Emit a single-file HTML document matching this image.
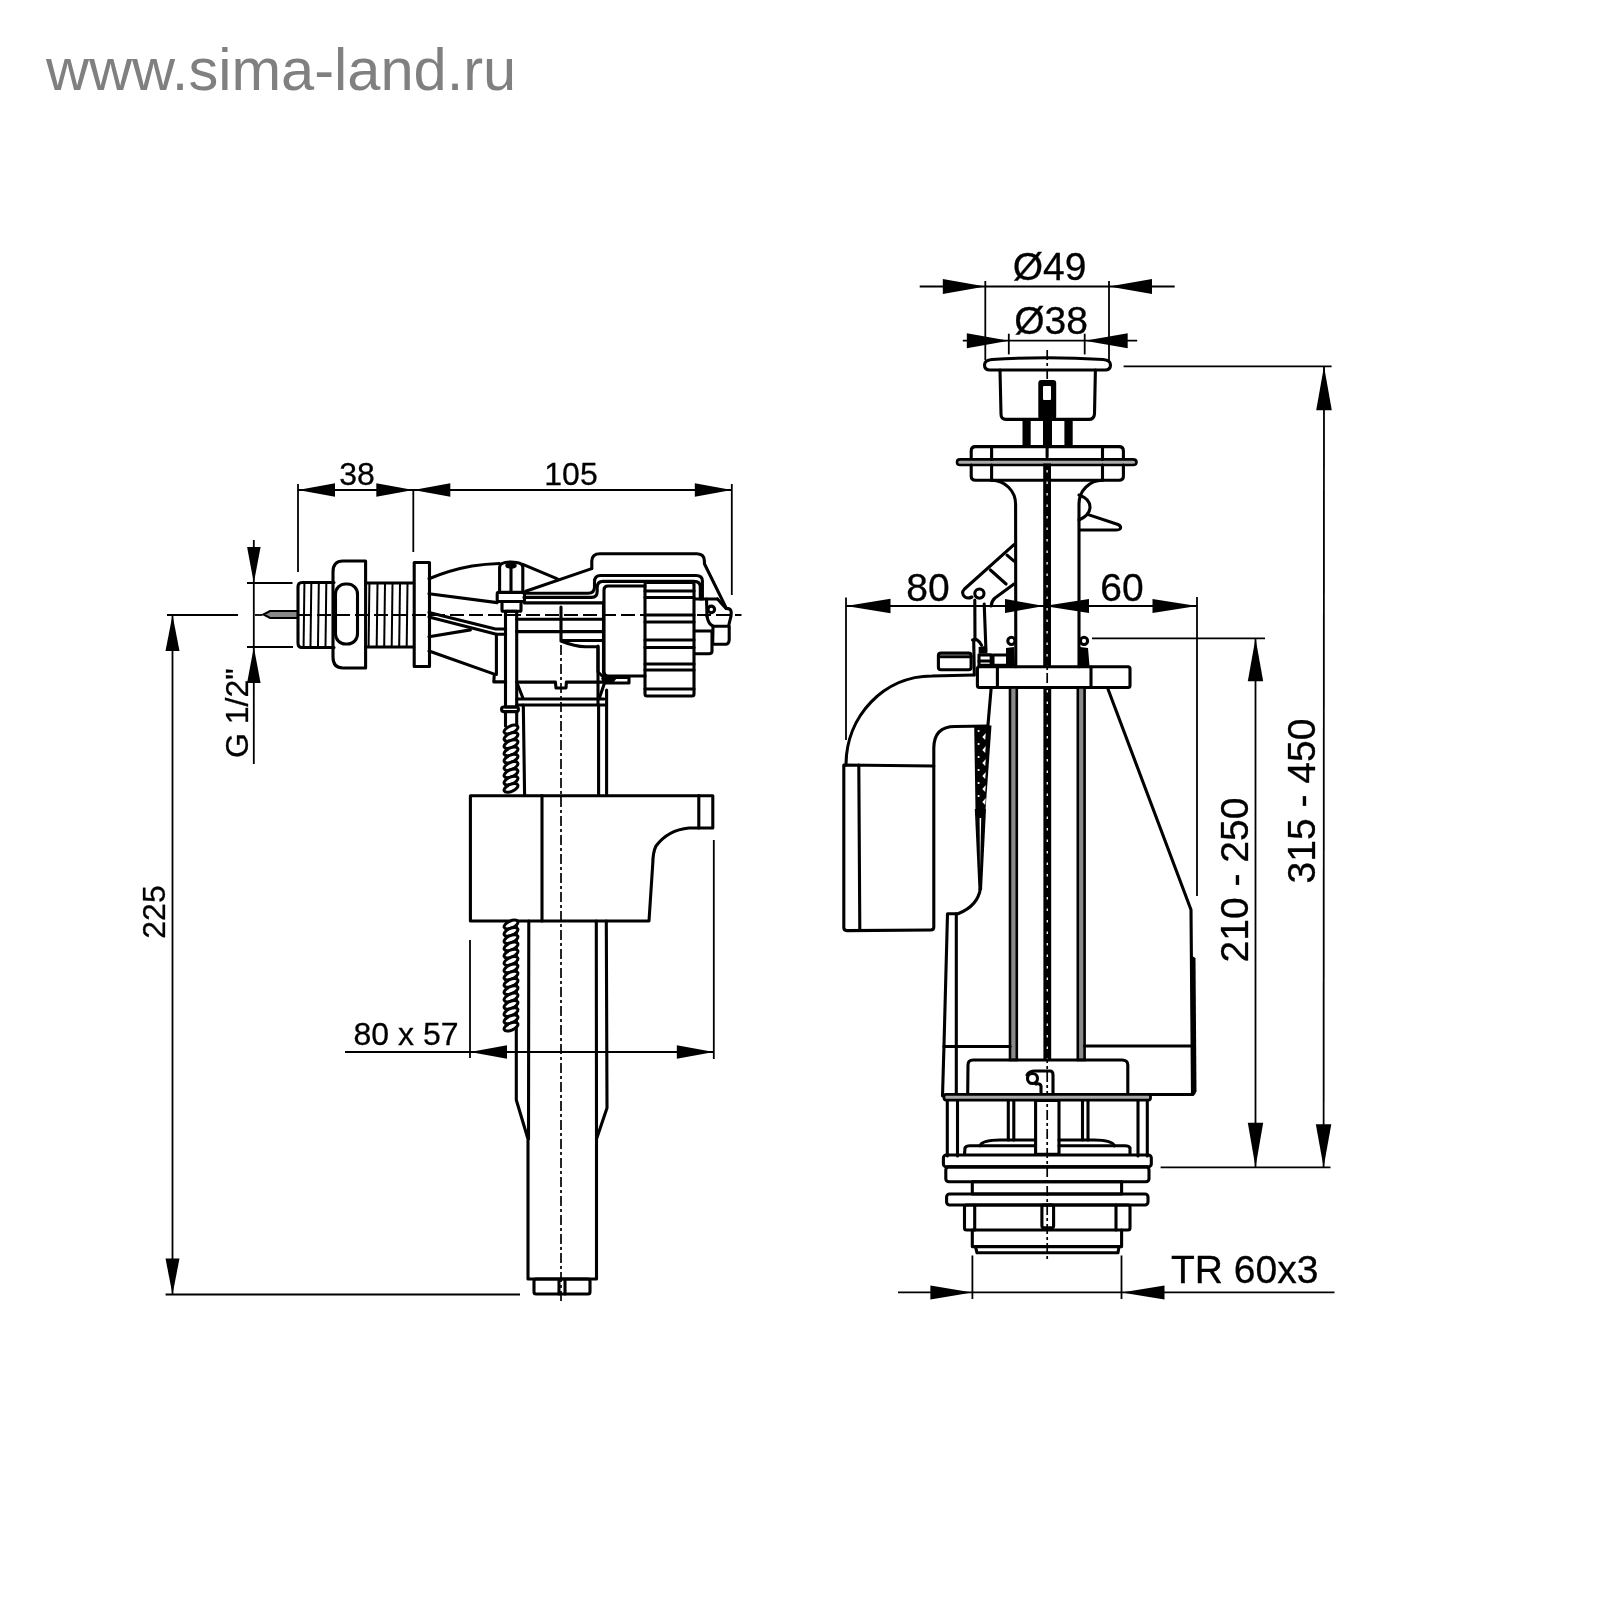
<!DOCTYPE html>
<html><head><meta charset="utf-8"><style>
html,body{margin:0;padding:0;background:#fff;}
svg{display:block;will-change:transform;}
text{font-family:"Liberation Sans",sans-serif;fill:#000;stroke:#000;stroke-width:0.3;}
.d{stroke:#000;stroke-width:1.8;fill:none;}
.c{stroke:#000;stroke-width:1.7;fill:none;stroke-dasharray:10 3 3 3;}
.cd{stroke:#000;stroke-width:1.9;fill:none;stroke-dasharray:14 5;}
.m{stroke:#000;stroke-width:3.1;fill:none;stroke-linejoin:round;stroke-linecap:round;}
.th{stroke:#000;stroke-width:2;fill:none;}
.t{stroke:#000;stroke-width:2;fill:#888;}
.sp{stroke:#000;stroke-width:3;fill:#fff;}
.f{fill:#000;stroke:none;}
.rd{fill:#8a8a8a;stroke:#000;stroke-width:2.6;}
.w{fill:#fff;stroke:none;}
.cw{stroke:#fff;stroke-width:1.3;stroke-dasharray:2.5 9;fill:none;}
polygon{fill:#000;}
</style></head><body>
<svg width="1600" height="1600" viewBox="0 0 1600 1600">
<text x="46" y="89.5" font-size="59.6" style="fill:#808080;stroke:none">www.sima-land.ru</text>
<line class="d" x1="298.0" y1="490.0" x2="732.0" y2="490.0"/>
<line class="d" x1="298.0" y1="484.0" x2="298.0" y2="572.0"/>
<line class="d" x1="413.3" y1="490.0" x2="413.3" y2="552.0"/>
<line class="d" x1="731.8" y1="484.0" x2="731.8" y2="595.0"/>
<polygon points="298.0,490.0 335.0,483.2 335.0,496.8"/>
<polygon points="413.3,490.0 376.3,483.2 376.3,496.8"/>
<polygon points="413.3,490.0 450.3,483.2 450.3,496.8"/>
<polygon points="731.8,490.0 694.8,483.2 694.8,496.8"/>
<text x="357.0" y="484.5" font-size="32" text-anchor="middle">38</text>
<text x="571.0" y="484.5" font-size="32" text-anchor="middle">105</text>
<line class="d" x1="253.8" y1="540.0" x2="253.8" y2="764.0"/>
<line class="d" x1="247.0" y1="583.0" x2="292.5" y2="583.0"/>
<line class="d" x1="247.0" y1="647.0" x2="293.0" y2="647.0"/>
<polygon points="253.8,583.0 247.1,547.0 260.6,547.0"/>
<polygon points="253.8,647.0 247.1,683.0 260.6,683.0"/>
<text x="247.5" y="758.0" font-size="32" text-anchor="start" transform="rotate(-90 247.5 758.0)">G 1/2"</text>
<line class="d" x1="172.5" y1="615.0" x2="172.5" y2="1294.5"/>
<line class="d" x1="167.0" y1="615.0" x2="238.0" y2="615.0"/>
<line class="d" x1="165.6" y1="1294.5" x2="520.0" y2="1294.5"/>
<polygon points="172.5,615.0 165.5,651.0 179.5,651.0"/>
<polygon points="172.5,1294.5 165.5,1258.5 179.5,1258.5"/>
<text x="164.7" y="912.0" font-size="32" text-anchor="middle" transform="rotate(-90 164.7 912.0)">225</text>
<line class="d" x1="345.0" y1="1052.0" x2="714.0" y2="1052.0"/>
<line class="d" x1="470.0" y1="940.0" x2="470.0" y2="1058.0"/>
<line class="d" x1="713.8" y1="840.0" x2="713.8" y2="1059.0"/>
<polygon points="470.0,1052.0 507.0,1045.2 507.0,1058.8"/>
<polygon points="713.8,1052.0 676.8,1045.2 676.8,1058.8"/>
<text x="406.0" y="1044.5" font-size="32" text-anchor="middle">80 x 57</text>
<line class="d" x1="255.0" y1="615.0" x2="262.5" y2="615.0"/>
<line class="cd" x1="298.0" y1="615.0" x2="741.5" y2="615.0"/>
<line class="c" x1="561.0" y1="607.0" x2="561.0" y2="1302.0"/>
<path class="t" d="M263.5,614.5 L270,611 L298,611 L298,618 L270,618 Z"/>
<path class="m" d="M334,582.5 L302,582.5 Q298,582.5 298,587 L298,643 Q298,647.5 302,647.5 L334,647.5"/>
<line class="th" x1="304.4" y1="584.0" x2="303.6" y2="646.0"/>
<line class="th" x1="311.3" y1="584.0" x2="310.5" y2="646.0"/>
<line class="th" x1="318.8" y1="584.0" x2="318.0" y2="646.0"/>
<line class="th" x1="326.3" y1="584.0" x2="325.5" y2="646.0"/>
<path class="m" d="M365.6,561 L343,561 Q333,561 333,572 L333,657 Q333,668 343,668 L365.6,668 Z"/>
<rect class="m" x="335.5" y="584.0" width="22.0" height="60.0" rx="10.0"/>
<path class="m" d="M365.6,583 L413.7,583 M365.6,647 L413.7,647"/>
<line class="th" x1="369.4" y1="584.0" x2="368.6" y2="646.0"/>
<line class="th" x1="377.5" y1="584.0" x2="376.7" y2="646.0"/>
<line class="th" x1="385.0" y1="584.0" x2="384.2" y2="646.0"/>
<line class="th" x1="392.5" y1="584.0" x2="391.7" y2="646.0"/>
<line class="th" x1="400.0" y1="584.0" x2="399.2" y2="646.0"/>
<line class="th" x1="407.5" y1="584.0" x2="406.7" y2="646.0"/>
<rect class="m" x="414.2" y="562.5" width="15.3" height="104.0" rx="0.0"/>
<path class="m" d="M429,578.7 Q450,570 472,566 Q485,564 499.5,563.5"/>
<path class="m" d="M429,593.7 L497.2,602.6"/>
<path class="m" d="M429,612.4 L495.5,629 L505.7,629"/>
<path class="m" d="M429,616.9 L496.4,634.3 L505.7,634.3"/>
<path class="m" d="M429,636.8 L470.4,629.9"/>
<path class="m" d="M429,651 L494.3,674.1 L493.8,681.9 L505.7,681.9"/>
<line class="m" x1="496.4" y1="634.3" x2="496.4" y2="674.5"/>
<path class="m" d="M499.6,591.2 L499.6,567 Q500,562 511,562 Q522.5,562 522.8,567 L522.8,591.2"/>
<ellipse class="m" cx="511" cy="565.5" rx="4.2" ry="1.6" stroke-width="2"/>
<line class="m" x1="511.0" y1="567.5" x2="511.0" y2="591.2"/>
<rect class="m" x="497.2" y="592.4" width="27.3" height="9.1" rx="1.5"/>
<rect class="m" x="502.0" y="601.5" width="19.0" height="9.7" rx="1.0"/>
<rect class="m" x="505.5" y="611.2" width="11.2" height="95.8" rx="0.0"/>
<rect class="m" x="501.6" y="707.0" width="16.8" height="4.6" rx="2.0"/>
<line class="m" x1="505.5" y1="711.6" x2="505.5" y2="726.0"/>
<line class="m" x1="516.7" y1="711.6" x2="516.7" y2="726.0"/>
<ellipse class="sp" cx="511.0" cy="729.5" rx="7.4" ry="3.5" transform="rotate(-24 511.0 729.5)"/>
<ellipse class="sp" cx="511.0" cy="736.8" rx="7.4" ry="3.5" transform="rotate(-24 511.0 736.8)"/>
<ellipse class="sp" cx="511.0" cy="744.1" rx="7.4" ry="3.5" transform="rotate(-24 511.0 744.1)"/>
<ellipse class="sp" cx="511.0" cy="751.4" rx="7.4" ry="3.5" transform="rotate(-24 511.0 751.4)"/>
<ellipse class="sp" cx="511.0" cy="758.7" rx="7.4" ry="3.5" transform="rotate(-24 511.0 758.7)"/>
<ellipse class="sp" cx="511.0" cy="766.0" rx="7.4" ry="3.5" transform="rotate(-24 511.0 766.0)"/>
<ellipse class="sp" cx="511.0" cy="773.3" rx="7.4" ry="3.5" transform="rotate(-24 511.0 773.3)"/>
<ellipse class="sp" cx="511.0" cy="780.6" rx="7.4" ry="3.5" transform="rotate(-24 511.0 780.6)"/>
<ellipse class="sp" cx="511.0" cy="787.9" rx="7.4" ry="3.5" transform="rotate(-24 511.0 787.9)"/>
<path class="m" d="M525.7,591.2 L591.7,568.6"/>
<path class="m" d="M522.8,564.4 L557.4,578.9"/>
<path class="m" d="M524,593.3 L588,593.3 Q594.5,593.3 594.5,587 L594.5,582 Q594.5,575.5 600.5,575.5 L696,575.5 Q702.4,575.5 702.4,581 L702.4,599"/>
<path class="m" d="M524,597.4 L591.5,597.4 Q597.2,597.4 597.2,591.5 L597.2,587.5 Q597.2,581.4 603,581.4 L694,581.4 Q700.3,581.4 700.3,587 L700.3,599"/>
<path class="m" d="M591.8,568.6 L591.8,561 Q592,553.8 600,553.8 L697,553.8 Q704.4,554 704.4,561 L704.4,563.7 L726.4,608.4"/>
<line class="m" x1="524.5" y1="602.9" x2="603.5" y2="602.9"/>
<line class="m" x1="516.7" y1="619.2" x2="603.5" y2="619.2"/>
<path class="m" d="M516.7,631.6 L603.5,631.6"/>
<path class="m" d="M561,607 L561,640.5 L603.5,640.5 M561,641 Q575,646.7 585.6,646.7 L598,646.7 L598,672 L604,677.7"/>
<line class="m" x1="603.5" y1="602.0" x2="603.5" y2="672.0"/>
<path class="m" d="M603.5,672 Q604,677 610,677"/>
<path class="m" d="M645,586 L608,586 Q604,586 604,590 L604,672 Q604,676 608,676 L645,676"/>
<rect class="m" x="645.0" y="582.5" width="49.0" height="113.5" rx="2.0"/>
<line class="m" x1="645.0" y1="591.0" x2="694.0" y2="591.0"/>
<line class="m" x1="645.0" y1="597.5" x2="694.0" y2="597.5"/>
<line class="m" x1="645.0" y1="615.0" x2="694.0" y2="615.0"/>
<line class="m" x1="645.0" y1="622.0" x2="694.0" y2="622.0"/>
<line class="m" x1="645.0" y1="640.0" x2="694.0" y2="640.0"/>
<line class="m" x1="645.0" y1="647.5" x2="694.0" y2="647.5"/>
<line class="m" x1="645.0" y1="664.0" x2="694.0" y2="664.0"/>
<line class="m" x1="645.0" y1="670.0" x2="694.0" y2="670.0"/>
<line class="m" x1="645.0" y1="689.0" x2="694.0" y2="689.0"/>
<path class="m" d="M694.5,599 L717.5,599"/>
<line class="m" x1="706.5" y1="599.0" x2="707.0" y2="616.0"/>
<circle class="m" cx="711.3" cy="609.4" r="3.3"/>
<path class="m" d="M717.5,599 L726,608.4 Q731,608.5 731.2,612 L731,616 L728.5,626.3 L713.4,626.3 Q708,624 707,616"/>
<path class="m" d="M713,626.3 L712.7,644.2 L726,644.2 Q729,644 729.2,640 L729.2,626.3"/>
<path class="m" d="M694.5,631 L712,631 L712,651 Q712,653.8 709,653.8 L694.5,653.8"/>
<path class="m" d="M516.7,682.1 L555.4,682.1 L556,688 L566,688 L566.4,682.1 L604,682.1"/>
<path class="m" d="M604,677.5 L629,677.5 L629,683 L604,683"/>
<path class="f" d="M601,678 L617,678 L613,683 L603,683 Z"/>
<line class="m" x1="516.7" y1="699.0" x2="604.0" y2="699.0"/>
<line class="m" x1="516.7" y1="705.0" x2="606.0" y2="705.0"/>
<line class="m" x1="517.6" y1="684.5" x2="523.0" y2="698.3"/>
<line class="m" x1="604.0" y1="684.5" x2="599.3" y2="698.3"/>
<line class="m" x1="523.3" y1="705.0" x2="524.6" y2="795.5"/>
<line class="m" x1="598.6" y1="705.0" x2="598.6" y2="795.5"/>
<line class="m" x1="606.6" y1="690.0" x2="606.6" y2="795.5"/>
<line class="m" x1="598.0" y1="646.0" x2="598.0" y2="705.0"/>
<path class="m" d="M470.4,795.7 L712.8,795.7 L712.8,828 L689,828 Q668,830 656,846 Q653,852 652.8,863 L649,921 L470.4,921 Z"/>
<line class="m" x1="542.0" y1="795.6" x2="542.0" y2="921.0"/>
<line class="m" x1="698.8" y1="795.6" x2="698.8" y2="828.0"/>
<path class="m" d="M516.3,921 L516.3,1100 L528,1139 L528,1279 L596.5,1279 L596.5,1139 L607,1108 L606.3,921"/>
<line class="m" x1="528.8" y1="921.0" x2="528.5" y2="1139.0"/>
<line class="m" x1="596.3" y1="921.0" x2="596.5" y2="1139.0"/>
<rect class="m" x="534.0" y="1279.0" width="56.0" height="15.0" rx="2.0"/>
<line class="m" x1="559.0" y1="1280.0" x2="559.0" y2="1294.0"/>
<line class="m" x1="565.0" y1="1280.0" x2="565.0" y2="1294.0"/>
<ellipse class="sp" cx="511.0" cy="924.5" rx="7.4" ry="3.5" transform="rotate(-24 511.0 924.5)"/>
<ellipse class="sp" cx="511.0" cy="931.8" rx="7.4" ry="3.5" transform="rotate(-24 511.0 931.8)"/>
<ellipse class="sp" cx="511.0" cy="939.1" rx="7.4" ry="3.5" transform="rotate(-24 511.0 939.1)"/>
<ellipse class="sp" cx="511.0" cy="946.4" rx="7.4" ry="3.5" transform="rotate(-24 511.0 946.4)"/>
<ellipse class="sp" cx="511.0" cy="953.7" rx="7.4" ry="3.5" transform="rotate(-24 511.0 953.7)"/>
<ellipse class="sp" cx="511.0" cy="961.0" rx="7.4" ry="3.5" transform="rotate(-24 511.0 961.0)"/>
<ellipse class="sp" cx="511.0" cy="968.3" rx="7.4" ry="3.5" transform="rotate(-24 511.0 968.3)"/>
<ellipse class="sp" cx="511.0" cy="975.6" rx="7.4" ry="3.5" transform="rotate(-24 511.0 975.6)"/>
<ellipse class="sp" cx="511.0" cy="982.9" rx="7.4" ry="3.5" transform="rotate(-24 511.0 982.9)"/>
<ellipse class="sp" cx="511.0" cy="990.2" rx="7.4" ry="3.5" transform="rotate(-24 511.0 990.2)"/>
<ellipse class="sp" cx="511.0" cy="997.5" rx="7.4" ry="3.5" transform="rotate(-24 511.0 997.5)"/>
<ellipse class="sp" cx="511.0" cy="1004.8" rx="7.4" ry="3.5" transform="rotate(-24 511.0 1004.8)"/>
<ellipse class="sp" cx="511.0" cy="1012.1" rx="7.4" ry="3.5" transform="rotate(-24 511.0 1012.1)"/>
<ellipse class="sp" cx="511.0" cy="1019.4" rx="7.4" ry="3.5" transform="rotate(-24 511.0 1019.4)"/>
<ellipse class="sp" cx="511.0" cy="1026.7" rx="7.4" ry="3.5" transform="rotate(-24 511.0 1026.7)"/>
<line class="d" x1="919.7" y1="286.5" x2="1174.7" y2="286.5"/>
<line class="d" x1="985.3" y1="281.0" x2="985.3" y2="360.0"/>
<line class="d" x1="1109.0" y1="281.0" x2="1109.0" y2="360.0"/>
<polygon points="985.3,286.5 942.8,279.0 942.8,294.0"/>
<polygon points="1109.0,286.5 1152.0,279.0 1152.0,294.0"/>
<text x="1049.5" y="280.3" font-size="39" text-anchor="middle">Ø49</text>
<line class="d" x1="962.8" y1="340.7" x2="1137.2" y2="340.7"/>
<line class="d" x1="1008.8" y1="333.7" x2="1008.8" y2="354.4"/>
<line class="d" x1="1084.7" y1="333.7" x2="1084.7" y2="354.4"/>
<polygon points="1008.8,340.7 966.8,333.2 966.8,348.2"/>
<polygon points="1084.7,340.7 1127.7,333.2 1127.7,348.2"/>
<text x="1051.0" y="333.7" font-size="39" text-anchor="middle">Ø38</text>
<line class="d" x1="1123.6" y1="366.3" x2="1331.6" y2="366.3"/>
<line class="d" x1="1324.0" y1="366.3" x2="1323.6" y2="1167.3"/>
<polygon points="1324.0,366.3 1316.2,410.3 1331.8,410.3"/>
<polygon points="1323.6,1167.3 1315.8,1124.3 1331.3,1124.3"/>
<text x="1315.0" y="801.0" font-size="39" text-anchor="middle" transform="rotate(-90 1315.0 801.0)">315 - 450</text>
<line class="d" x1="1092.0" y1="638.3" x2="1265.0" y2="638.3"/>
<line class="d" x1="1255.5" y1="638.3" x2="1255.5" y2="1167.3"/>
<polygon points="1255.5,638.3 1247.8,681.3 1263.2,681.3"/>
<polygon points="1255.5,1167.3 1247.8,1122.8 1263.2,1122.8"/>
<text x="1247.5" y="880.0" font-size="39" text-anchor="middle" transform="rotate(-90 1247.5 880.0)">210 - 250</text>
<line class="d" x1="1160.6" y1="1167.3" x2="1330.5" y2="1167.3"/>
<line class="d" x1="846.0" y1="606.0" x2="1197.0" y2="606.0"/>
<line class="d" x1="846.0" y1="597.5" x2="846.0" y2="740.0"/>
<line class="d" x1="1197.0" y1="597.0" x2="1197.0" y2="896.0"/>
<polygon points="846.0,606.0 890.5,598.8 890.5,613.2"/>
<polygon points="1044.0,606.0 1005.0,599.0 1005.0,613.0"/>
<polygon points="1044.0,606.0 1089.0,599.0 1089.0,613.0"/>
<polygon points="1197.0,606.0 1152.5,599.0 1152.5,613.0"/>
<text x="928.0" y="600.6" font-size="39" text-anchor="middle">80</text>
<text x="1122.0" y="600.6" font-size="39" text-anchor="middle">60</text>
<line class="d" x1="898.0" y1="1292.4" x2="1334.5" y2="1292.4"/>
<line class="d" x1="972.4" y1="1255.5" x2="972.4" y2="1299.0"/>
<line class="d" x1="1121.5" y1="1255.5" x2="1121.5" y2="1299.0"/>
<polygon points="972.4,1292.4 930.4,1285.4 930.4,1299.4"/>
<polygon points="1121.5,1292.4 1164.5,1285.4 1164.5,1299.4"/>
<text x="1171.0" y="1283.4" font-size="39" text-anchor="start">TR 60x3</text>
<line class="c" x1="1047.2" y1="350.0" x2="1047.2" y2="1262.0"/>
<path class="m" d="M990,370 Q984.5,370 984.5,365 Q984.5,360 992,359.5 Q1047,356 1103,359.5 Q1110.5,360 1110.5,365 Q1110.5,370 1105,370 Z"/>
<path class="m" d="M1000,370 L1001,414 Q1001,419.4 1006,419.4 L1089,419.4 Q1094,419.4 1094.5,414 L1095.4,370"/>
<rect class="f" x="1038.3" y="380.0" width="17.9" height="39.4" rx="3.0"/>
<rect class="w" x="1043.0" y="386.0" width="8.0" height="14.0" rx="1.0"/>
<rect class="f" x="1022.5" y="419.0" width="8.2" height="27.5" rx="0.0"/>
<rect class="f" x="1064.4" y="419.0" width="8.3" height="27.5" rx="0.0"/>
<rect class="f" x="1043.0" y="419.0" width="9.0" height="27.5" rx="0.0"/>
<path class="m" d="M971.2,459.4 L971.2,451 Q971.2,446.6 975.5,446.6 L1119,446.6 Q1123.4,446.6 1123.4,451 L1123.4,459.4"/>
<path d="M960,459.4 L1133,459.4 Q1136.5,459.4 1136.5,462.2 Q1136.5,465 1133,465 L960,465 Q957,465 957,462.2 Q957,459.4 960,459.4 Z" fill="#aaa" stroke="#000" stroke-width="2.6"/>
<path class="m" d="M971.2,465 L971.2,476 Q971.2,480.2 975.5,480.2 L1119,480.2 Q1123.4,480.2 1123.4,476 L1123.4,465"/>
<line class="m" x1="991.6" y1="446.6" x2="991.6" y2="459.4"/>
<line class="m" x1="1102.5" y1="446.6" x2="1102.5" y2="459.4"/>
<line class="m" x1="991.6" y1="465.0" x2="991.6" y2="480.2"/>
<line class="m" x1="1102.5" y1="465.0" x2="1102.5" y2="480.2"/>
<path class="m" d="M991.6,480.2 A24,24 0 0 1 1015.6,504.2 L1015.8,666.8"/>
<path class="m" d="M1102.5,480.2 A23.5,23.5 0 0 0 1079,503.7 L1079,666.8"/>
<rect class="f" x="1043.2" y="463.5" width="7.8" height="203.3" rx="0.0"/>
<line class="cw" x1="1047.1" y1="470.0" x2="1047.1" y2="666.0"/>
<line class="m" x1="1047.1" y1="448.0" x2="1047.1" y2="457.0"/>
<path class="m" d="M1079,495 Q1090,499 1090,507 Q1090,515 1079,520"/>
<path class="m" d="M1087.5,514.4 L1118,524.5 Q1122,526.5 1120,529 Q1119,530 1116,530 L1080,530"/>
<path class="m" d="M1014,544.6 L964.5,589 Q960.5,593 965,597 Q968,599 972,597"/>
<path class="m" d="M1014,584 L995,598 Q991.5,601 991.2,606"/>
<line class="m" x1="990.4" y1="570.0" x2="1006.1" y2="584.0"/>
<line class="m" x1="1007.0" y1="555.1" x2="1014.0" y2="561.2"/>
<circle class="m" cx="979.4" cy="593.6" r="4.6" stroke-width="3.2"/>
<path class="m" d="M974.8,600 L975,640 M984.2,604 L986,651.4"/>
<path class="m" d="M972.5,640 Q977,637 981.6,645.2"/>
<path class="f" d="M978.6,647 L985.5,646 L987.5,653.5 L978.6,653.5 Z"/>
<line class="m" x1="973.7" y1="640.0" x2="974.3" y2="675.0"/>
<rect class="m" x="938.4" y="653.1" width="32.7" height="16.6" rx="2.5"/>
<line class="m" x1="939.5" y1="656.8" x2="971.0" y2="656.8"/>
<rect class="m" x="979.0" y="654.9" width="12.2" height="10.5" rx="0.0"/>
<line class="m" x1="979.0" y1="661.0" x2="991.2" y2="661.0"/>
<rect class="m" x="993.0" y="655.0" width="18.0" height="10.4" rx="0.0"/>
<circle class="m" cx="1011.4" cy="640.9" r="3.6" stroke-width="3"/>
<circle class="m" cx="1084" cy="640.9" r="3.6" stroke-width="3"/>
<path class="f" d="M1006,648 L1014,647 L1015,666 L1006,666 Z"/>
<path class="f" d="M1080,647 L1088,648 L1089.5,666 L1080,666 Z"/>
<rect class="m" x="977.4" y="666.8" width="152.6" height="20.7" rx="2.0"/>
<line class="m" x1="997.4" y1="667.0" x2="997.4" y2="687.5"/>
<line class="m" x1="1091.0" y1="667.0" x2="1091.0" y2="687.5"/>
<path class="m" d="M1107.4,687.5 L1191,909.7 L1192.5,1094.5"/>
<path class="f" d="M1190.5,955 L1195.5,958 L1196.5,1092 L1191.5,1092 Z"/>
<path class="m" d="M1127.8,1094.5 L1191,1094.5 Q1194.5,1094.5 1194.5,1091"/>
<path class="m" d="M991.2,687.5 L987.8,727"/>
<path class="m" d="M846,765 C846,716 884,676 932,676 L974,675"/>
<path class="m" d="M933.8,766 L933.8,748 Q934,726.5 955,726.5 L988,726"/>
<path class="m" d="M843.8,765 L933.8,766 L933.8,927 Q933.8,930 930.8,930 L846.8,930.6 Q843.8,930.6 843.8,927.6 Z"/>
<line class="m" x1="858.8" y1="765.0" x2="859.8" y2="930.0"/>
<path class="m" d="M980.5,888 Q978,906 958,913.7 L947.5,913.7 L944,1045 L942.5,1096"/>
<path class="f" d="M974.2,725.5 L991.5,725.5 L985.5,810 L975.5,810 Z"/>
<path class="w" d="M985.8,733.0 L982.3,737.0 L985.2,740.0 Z"/>
<circle class="w" cx="978.6" cy="731.0" r="1.1"/>
<path class="w" d="M985.8,746.0 L982.3,750.0 L985.2,753.0 Z"/>
<circle class="w" cx="978.6" cy="744.0" r="1.1"/>
<path class="w" d="M985.8,759.0 L982.3,763.0 L985.2,766.0 Z"/>
<circle class="w" cx="978.6" cy="757.0" r="1.1"/>
<path class="w" d="M985.8,772.0 L982.3,776.0 L985.2,779.0 Z"/>
<circle class="w" cx="978.6" cy="770.0" r="1.1"/>
<path class="w" d="M985.8,785.0 L982.3,789.0 L985.2,792.0 Z"/>
<circle class="w" cx="978.6" cy="783.0" r="1.1"/>
<path class="w" d="M985.8,798.0 L982.3,802.0 L985.2,805.0 Z"/>
<circle class="w" cx="978.6" cy="796.0" r="1.1"/>
<path class="f" d="M974.8,809 L986,809 L982,890 L978.5,890 Z"/>
<path class="w" d="M979.6,818 L981.2,818 L980,870 Z"/>
<line class="m" x1="956.3" y1="913.7" x2="956.3" y2="1096.0"/>
<rect class="rd" x="1010.0" y="687.5" width="6.8" height="372.5" rx="0.0"/>
<rect class="rd" x="1077.8" y="687.5" width="6.8" height="372.5" rx="0.0"/>
<rect class="f" x="1043.4" y="687.5" width="7.8" height="373.5" rx="0.0"/>
<line class="cw" x1="1047.3" y1="690.0" x2="1047.3" y2="1061.0"/>
<line class="m" x1="944.0" y1="1046.5" x2="1010.0" y2="1046.5"/>
<line class="m" x1="1084.5" y1="1046.0" x2="1193.0" y2="1046.0"/>
<path class="m" d="M967.7,1094 L968,1065 Q968,1060 973,1060 L1122,1060 Q1127.8,1060 1127.8,1065 L1127.8,1094"/>
<circle class="m" cx="1032.5" cy="1078.5" r="5" stroke-width="3.6"/>
<path class="m" d="M1027,1075 Q1029,1071 1035,1071 L1050,1071 Q1053,1071 1053,1075 L1053,1093 M1041,1093 L1041,1086 Q1040,1083 1036,1084"/>
<rect x="944" y="1094.3" width="206.5" height="5.8" rx="2" fill="#aaa" stroke="#000" stroke-width="2.8"/>
<line class="m" x1="947.3" y1="1100.5" x2="947.3" y2="1156.0"/>
<line class="m" x1="957.5" y1="1100.5" x2="957.5" y2="1156.0"/>
<line class="m" x1="1138.0" y1="1100.5" x2="1138.0" y2="1156.0"/>
<line class="m" x1="1147.3" y1="1100.5" x2="1147.3" y2="1156.0"/>
<line class="m" x1="1008.3" y1="1100.5" x2="1008.3" y2="1140.0"/>
<line class="m" x1="1013.8" y1="1100.5" x2="1013.8" y2="1140.0"/>
<line class="m" x1="1082.5" y1="1100.5" x2="1082.5" y2="1140.0"/>
<line class="m" x1="1088.0" y1="1100.5" x2="1088.0" y2="1140.0"/>
<rect class="m" x="1035.6" y="1100.5" width="23.4" height="53.9" rx="0.0"/>
<path class="m" d="M980,1145.8 Q982,1140 1000,1140 L1035.6,1140 M1059,1140 L1094,1140 Q1112,1140 1114.5,1145.8"/>
<path class="m" d="M964.5,1154.4 L965,1148 Q966,1145.8 970,1145.8 L1035.6,1145.8 M1059,1145.8 L1125,1145.8 Q1129,1145.8 1130,1148 L1130,1154.4"/>
<rect class="m" x="943.4" y="1155.0" width="207.9" height="11.9" rx="3.0"/>
<rect class="m" x="945.8" y="1166.9" width="203.2" height="14.8" rx="3.0"/>
<rect class="m" x="972.3" y="1181.7" width="149.3" height="12.3" rx="0.0"/>
<rect class="m" x="946.6" y="1194.0" width="201.4" height="11.0" rx="3.0"/>
<rect class="m" x="964.5" y="1205.0" width="165.5" height="25.0" rx="2.0"/>
<line class="m" x1="974.7" y1="1205.0" x2="974.7" y2="1230.0"/>
<line class="m" x1="1116.0" y1="1205.0" x2="1116.0" y2="1230.0"/>
<rect class="m" x="1041.9" y="1205.0" width="11.7" height="22.8" rx="2.0"/>
<path class="m" d="M972.3,1230 L972.3,1246.6 L1121.6,1246.6 L1121.6,1230"/>
<path class="m" d="M975.5,1246.6 L977,1252.8 L1118,1252.8 L1119,1246.6"/>
</svg>
</body></html>
